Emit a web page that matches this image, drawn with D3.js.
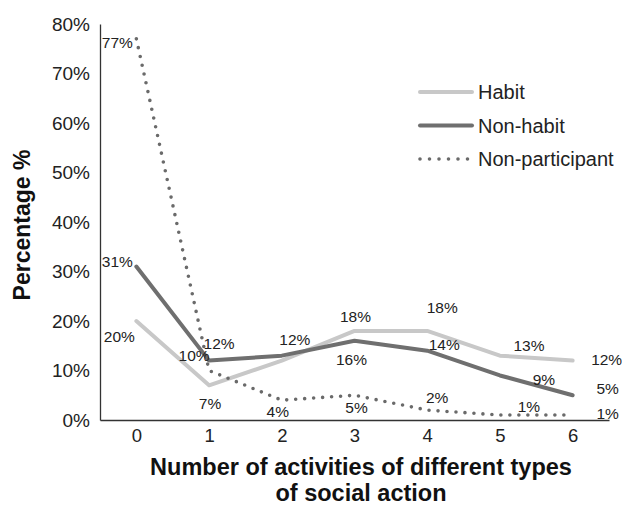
<!DOCTYPE html>
<html><head><meta charset="utf-8">
<script src="https://cdn.jsdelivr.net/npm/d3@7"></script>
<style>
body{margin:0;background:#fff;}
svg{display:block;font-family:"Liberation Sans",Arial,sans-serif;}
</style></head>
<body><svg id="c" width="622" height="507"></svg>
<script>
const categories = [0,1,2,3,4,5,6];
const habit = [20,7,12,18,18,13,12];
const nonHabit = [31,12,13,16,14,9,5];
const nonParticipant = [77,10,4,5,2,1,1];
const yTicks = [0,10,20,30,40,50,60,70,80];
const seriesNames = ["Habit","Non-habit","Non-participant"];

// label offsets (dx, dy of label center from point); null = no label
const labelOffsets = {
  "Habit":[[-17,15],[1,18],[13,-21],[1,-14],[15,-23],[29,-10],[34,-1]],
  "Non-habit":[[-19,-5],[10,-17],null,[-3,19],[17,-6],[44,4],[35,-7]],
  "Non-participant":[[-19,4],[-15,-15],[-4,11],[2,12],[10,-13],[29,-9],[35,-2]]
};

const svg = d3.select("#c");
const x = d3.scaleLinear().domain([-0.5,6.5]).range([100,609]);
const y = d3.scaleLinear().domain([0,80]).range([420,24]);
const FF = "Liberation Sans, Arial, sans-serif";

// axes
const yAxis = svg.append("g").attr("transform","translate(100,0)")
  .call(d3.axisLeft(y).tickValues(yTicks).tickFormat(d=>d+"%").tickSize(0).tickPadding(10));
yAxis.select(".domain").attr("stroke","#333").attr("stroke-width",1.3);
yAxis.selectAll("text").attr("font-size",19).attr("fill","#222").attr("font-family",FF);

const xAxis = svg.append("g").attr("transform","translate(0,420)")
  .call(d3.axisBottom(x).tickValues(categories).tickFormat(d3.format("d")).tickSize(0).tickPadding(9));
xAxis.select(".domain").attr("stroke","#333").attr("stroke-width",1.3);
xAxis.selectAll("text").attr("font-size",18.5).attr("fill","#222").attr("font-family",FF);

// axis titles
svg.append("text").attr("transform","translate(22,225) rotate(-90)")
  .attr("text-anchor","middle").attr("dominant-baseline","central")
  .attr("font-size",23).attr("font-weight","bold").attr("fill","#111").text("Percentage %");
svg.append("text").attr("x",361).attr("y",475).attr("text-anchor","middle")
  .attr("font-size",23.5).attr("font-weight","bold").attr("fill","#111").text("Number of activities of different types");
svg.append("text").attr("x",361).attr("y",501).attr("text-anchor","middle")
  .attr("font-size",23.5).attr("font-weight","bold").attr("fill","#111").text("of social action");

const series = [
  {name:"Habit", values:habit, color:"#c8c8c8", width:4, dash:null},
  {name:"Non-habit", values:nonHabit, color:"#6f6f6f", width:4, dash:null},
  {name:"Non-participant", values:nonParticipant, color:"#6a6a6a", width:3.6, dash:"0 9"}
];

const line = d3.line().x((d,i)=>x(categories[i])).y(d=>y(d));

series.forEach(s=>{
  svg.append("path").datum(s.values).attr("d",line)
    .attr("fill","none").attr("stroke",s.color).attr("stroke-width",s.width)
    .attr("stroke-linecap","round").attr("stroke-linejoin","round")
    .attr("stroke-dasharray",s.dash);
});

// labels
series.forEach(s=>{
  s.values.forEach((v,i)=>{
    const off = labelOffsets[s.name][i];
    if(!off) return;
    svg.append("text").attr("x",x(categories[i])+off[0]).attr("y",y(v)+off[1])
      .attr("text-anchor","middle").attr("dominant-baseline","central")
      .attr("font-size",15.5).attr("fill","#222").text(v+"%");
  });
});

// legend
const lg = svg.append("g");
series.forEach((s,i)=>{
  const yy = 92 + i*33.5;
  lg.append("line").attr("x1",420).attr("x2",s.dash?469:472).attr("y1",yy).attr("y2",yy)
    .attr("stroke",s.color).attr("stroke-width",s.width).attr("stroke-linecap","round")
    .attr("stroke-dasharray",s.dash? "0 9.5":null);
  lg.append("text").attr("x",478).attr("y",yy).attr("dominant-baseline","central")
    .attr("font-size",20).attr("fill","#222").text(s.name);
});
</script></body></html>
